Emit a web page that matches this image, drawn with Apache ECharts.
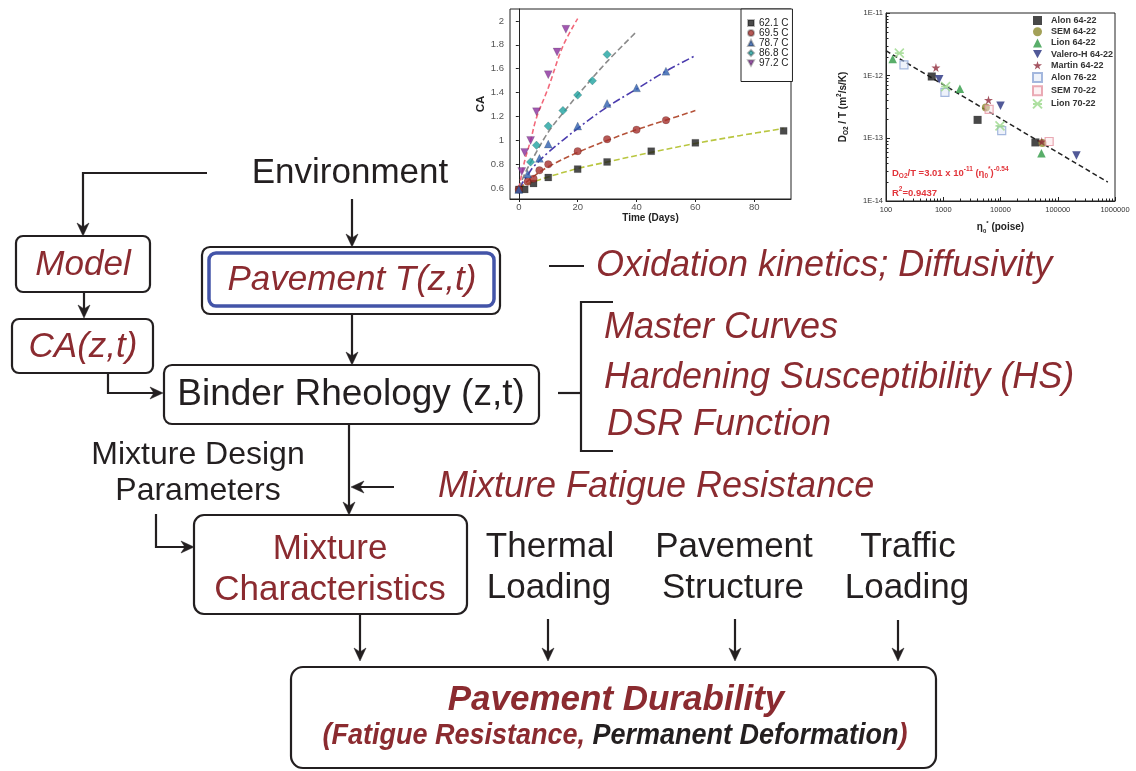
<!DOCTYPE html>
<html>
<head>
<meta charset="utf-8">
<script src="https://cdn.jsdelivr.net/npm/echarts@6/dist/echarts.min.js"></script>
<style>
  html, body { margin: 0; padding: 0; background: #ffffff; }
  #main { width: 1136px; height: 771px; }
</style>
</head>
<body>
<div id="main"></div>
<script>
// ---------- Carbonyl area (CA) growth with aging time, five temperatures ----------
const agingLabels = ['62.1 C', '69.5 C', '78.7 C', '86.8 C', '97.2 C'];

const days621 = [0, 2, 5, 10, 20, 30, 45, 60, 90];
const ca621   = [0.59, 0.59, 0.64, 0.69, 0.76, 0.82, 0.91, 0.98, 1.08];
const days695 = [0, 3, 5, 7, 10, 20, 30, 40, 50];
const ca695   = [0.59, 0.655, 0.68, 0.75, 0.80, 0.91, 1.01, 1.09, 1.17];
const days787 = [0, 3, 7, 10, 20, 30, 40, 50];
const ca787   = [0.59, 0.72, 0.85, 0.97, 1.12, 1.31, 1.44, 1.58];
const days868 = [4, 6, 10, 15, 20, 25, 30];
const ca868   = [0.82, 0.96, 1.12, 1.25, 1.38, 1.50, 1.72];
const days972 = [1, 2, 4, 6, 10, 13, 16];
const ca972   = [0.74, 0.90, 1.00, 1.24, 1.55, 1.74, 1.93];

// fitted kinetics curves
const fitDays621 = [0, 2, 5, 10, 20, 30, 45, 60, 75, 90];
const fitCa621   = [0.60, 0.625, 0.655, 0.695, 0.765, 0.82, 0.90, 0.975, 1.04, 1.10];
const fitDays695 = [0, 3, 5, 10, 20, 30, 40, 50, 60];
const fitCa695   = [0.60, 0.66, 0.70, 0.78, 0.90, 1.00, 1.09, 1.17, 1.25];
const fitDays787 = [0, 3, 5, 10, 20, 30, 40, 50, 60];
const fitCa787   = [0.60, 0.71, 0.78, 0.90, 1.10, 1.28, 1.43, 1.58, 1.71];
const fitDays868 = [0, 2, 5, 10, 15, 20, 30, 40];
const fitCa868   = [0.60, 0.72, 0.86, 1.07, 1.23, 1.38, 1.66, 1.91];
const fitDays972 = [0, 2, 4, 6, 10, 15, 20];
const fitCa972   = [0.60, 0.83, 1.00, 1.19, 1.44, 1.79, 2.02];

const caTickDays = [0, 20, 40, 60, 80];
const caTickValues = [0.6, 0.8, 1.0, 1.2, 1.4, 1.6, 1.8, 2.0];

// ---------- Oxygen diffusivity vs zero-shear viscosity ----------
const sourceLabels = ['Alon 64-22', 'SEM 64-22', 'Lion 64-22', 'Valero-H 64-22',
                      'Martin 64-22', 'Alon 76-22', 'SEM 70-22', 'Lion 70-22'];
const viscAlon6422   = [630, 3980, 40700];
const diffAlon6422   = [9.7e-13, 1.97e-13, 8.6e-14];
const viscSem6422    = [5550, 54000];
const diffSem6422    = [3.1e-13, 8.4e-14];
const viscLion6422   = [131, 1950, 51900];
const diffLion6422   = [1.84e-12, 6.2e-13, 5.8e-14];
const viscValero6422 = [850, 10000, 212000];
const diffValero6422 = [8.8e-13, 3.3e-13, 5.3e-14];
const viscMartin6422 = [745, 6170, 52500];
const diffMartin6422 = [1.35e-12, 4.1e-13, 8.9e-14];
const viscAlon7622   = [206, 1070, 10500];
const diffAlon7622   = [1.49e-12, 5.4e-13, 1.33e-13];
const viscSem7022    = [6330, 70800];
const diffSem7022    = [2.9e-13, 8.9e-14];
const viscLion7022   = [171, 1100, 9800];
const diffLion7022   = [2.29e-12, 6.7e-13, 1.58e-13];
// power-law fit D/T = 3.01e-11 * eta^-0.54, end points
const fitVisc = [100, 750000];
const fitDiff = [2.5e-12, 2.0e-14];

const viscDecades = [100, 1000, 10000, 100000, 1000000];
const diffDecades = [1e-14, 1e-13, 1e-12, 1e-11];
const minorSteps = [2, 3, 4, 5, 6, 7, 8, 9];

// ---------- styling ----------
const FONT = '"Liberation Sans", Arial, Helvetica, sans-serif';
const INK = '#231f20';
const RED = '#8b2b30';
const FRAME_BLUE = '#4354a8';
const LW = 2.2;

const zip = (xs, ys) => xs.map((x, i) => [x, ys[i]]);
const minorTicks = (decades) => {
  const out = [];
  decades.slice(0, -1).forEach(d => minorSteps.forEach(m => out.push(d * m)));
  return out;
};

const downTri = 'path://M0,0 L10,0 L5,9 Z';
const star = 'path://M50,0 L61,35 L98,35 L68,57 L79,91 L50,70 L21,91 L32,57 L2,35 L39,35 Z';
const cross = 'path://M0,0 L10,10 M10,0 L0,10 M0,5 L10,5';

const agingPoints = [zip(days621, ca621), zip(days695, ca695), zip(days787, ca787), zip(days868, ca868), zip(days972, ca972)];
const agingFits = [zip(fitDays621, fitCa621), zip(fitDays695, fitCa695), zip(fitDays787, fitCa787), zip(fitDays868, fitCa868), zip(fitDays972, fitCa972)];
const agingSymbols = ['rect', 'circle', 'triangle', 'diamond', downTri];
const agingSizes = [7, 7.5, 8, 8.5, 8];
const agingColors = ['#1e1e1e', '#a5302c', '#2e5fae', '#1fa3a0', '#8a2e9c'];
const fitColors = ['#b9c640', '#b5533a', '#4b3cae', '#8a8a8a', '#f2687a'];
const fitDash = [[6, 3], [6, 3], [8, 3, 2, 3], [6, 3], [5, 3]];

const sourcePoints = [
  zip(viscAlon6422, diffAlon6422), zip(viscSem6422, diffSem6422), zip(viscLion6422, diffLion6422),
  zip(viscValero6422, diffValero6422), zip(viscMartin6422, diffMartin6422), zip(viscAlon7622, diffAlon7622),
  zip(viscSem7022, diffSem7022), zip(viscLion7022, diffLion7022)
];
const sourceSymbols = ['rect', 'circle', 'triangle', downTri, star, 'rect', 'rect', cross];
const sourceSizes = [8, 8, 8.5, 8.5, 9, 8, 8, 9];
const sourceStyles = [
  { color: '#1a1a1a' },
  { color: '#8c8a2e' },
  { color: '#2f9a45' },
  { color: '#26307e' },
  { color: '#8e2b3b' },
  { color: 'rgba(220,228,245,0.6)', borderColor: '#8fa6d6', borderWidth: 1.2 },
  { color: 'rgba(250,225,230,0.6)', borderColor: '#e596a3', borderWidth: 1.2 },
  { color: 'rgba(0,0,0,0)', borderColor: '#9ad88a', borderWidth: 1.6 }
];

// ---------- flow diagram helpers ----------
function seg(points, width) {
  return { type: 'polyline', shape: { points }, style: { stroke: INK, lineWidth: width || LW, fill: 'none' } };
}
function arrow(points) {
  const n = points.length;
  const [tx, ty] = points[n - 1];
  const [px, py] = points[n - 2];
  const len = Math.hypot(tx - px, ty - py);
  const ux = (tx - px) / len, uy = (ty - py) / len;
  const head = 13, half = 6;
  const nx = -uy, ny = ux;
  const bx = tx - ux * head, by = ty - uy * head;
  const shaft = points.slice(0, n - 1).concat([[tx - ux * head * 0.6, ty - uy * head * 0.6]]);
  return [
    seg(shaft),
    { type: 'polygon', shape: { points: [[tx, ty], [bx + nx * half, by + ny * half],
      [tx - ux * head * 0.7, ty - uy * head * 0.7], [bx - nx * half, by - ny * half]] },
      style: { fill: INK, stroke: INK, lineWidth: 0.5 } }
  ];
}
function box(x, y, w, h, r, stroke, width) {
  return { type: 'rect', shape: { x, y, width: w, height: h, r },
    style: { fill: 'none', stroke: stroke || INK, lineWidth: width || LW } };
}
function txt(text, x, y, opt) {
  const o = Object.assign({ size: 35, color: INK, italic: false, bold: false, align: 'center' }, opt || {});
  return { type: 'text', style: { text, x, y, fontSize: o.size, fontFamily: FONT,
    fontStyle: o.italic ? 'italic' : 'normal', fontWeight: o.bold ? 'bold' : 'normal',
    fill: o.color, align: o.align, verticalAlign: 'middle', textAlign: o.align, textVerticalAlign: 'middle' } };
}
const note = { italic: true, color: RED, align: 'left', size: 36 };

const diagram = [].concat(
  txt('Environment', 350, 173),
  arrow([[207, 173], [83, 173], [83, 236]]),
  arrow([[352, 199], [352, 247]]),

  box(16, 236, 134, 56, 7),
  txt('Model', 83, 265, { italic: true, color: RED }),
  arrow([[84, 292], [84, 318]]),
  box(12, 319, 141, 54, 7),
  txt('CA(z,t)', 83, 347, { italic: true, color: RED }),
  arrow([[108, 373], [108, 393], [163, 393]]),

  box(202, 247, 298, 67, 8),
  box(209, 253, 285, 53, 7, FRAME_BLUE, 3.5),
  txt('Pavement T(z,t)', 352, 280, { italic: true, color: RED }),
  arrow([[352, 314], [352, 365]]),

  box(164, 365, 375, 59, 8),
  txt('Binder Rheology (z,t)', 351, 395, { size: 37 }),

  seg([[549, 266], [584, 266]]),
  txt('Oxidation kinetics; Diffusivity', 596, 266, note),
  seg([[558, 393], [581, 393]]),
  seg([[613, 302], [581, 302], [581, 451], [613, 451]]),
  txt('Master Curves', 604, 328, note),
  txt('Hardening Susceptibility (HS)', 604, 378, note),
  txt('DSR Function', 607, 425, note),

  arrow([[349, 424], [349, 515]]),
  arrow([[394, 487], [351, 487]]),
  txt('Mixture Fatigue Resistance', 438, 487, note),
  txt('Mixture Design', 198, 455, { size: 32 }),
  txt('Parameters', 198, 491, { size: 32 }),
  arrow([[156, 514], [156, 547], [194, 547]]),

  box(194, 515, 273, 99, 10),
  txt('Mixture', 330, 549, { color: RED }),
  txt('Characteristics', 330, 590, { color: RED }),
  txt('Thermal', 550, 547), txt('Loading', 549, 588),
  txt('Pavement', 734, 547), txt('Structure', 733, 588),
  txt('Traffic', 908, 547), txt('Loading', 907, 588),

  arrow([[360, 614], [360, 661]]),
  arrow([[548, 619], [548, 661]]),
  arrow([[735, 619], [735, 661]]),
  arrow([[898, 620], [898, 661]]),

  box(291, 667, 645, 101, 12),
  txt('Pavement Durability', 616, 700, { bold: true, italic: true, color: RED }),
  {
    type: 'text', scaleY: 1.12, originX: 615, originY: 736,
    style: {
      text: '{r|(Fatigue Resistance, }{k|Permanent Deformation}{r|)}',
      x: 615, y: 736, align: 'center', verticalAlign: 'middle', textAlign: 'center', textVerticalAlign: 'middle',
      rich: {
        r: { fill: RED, fontSize: 27, fontStyle: 'italic', fontWeight: 'bold', fontFamily: FONT },
        k: { fill: INK, fontSize: 27, fontStyle: 'italic', fontWeight: 'bold', fontFamily: FONT }
      }
    }
  },

  // fit equation for the diffusivity plot
  {
    type: 'text',
    style: {
      text: '{r|D}{s|O2}{r|/T =3.01 x 10}{p|-11}{r| (η}{s|0}{p|*}{r|)}{p|-0.54}',
      x: 892, y: 173, align: 'left', verticalAlign: 'middle', textAlign: 'left', textVerticalAlign: 'middle',
      rich: {
        r: { fill: '#e2353b', fontSize: 9.5, fontWeight: 'bold', fontFamily: FONT, lineHeight: 14, verticalAlign: 'middle' },
        s: { fill: '#e2353b', fontSize: 6.5, fontWeight: 'bold', fontFamily: FONT, lineHeight: 14, verticalAlign: 'bottom' },
        p: { fill: '#e2353b', fontSize: 6.5, fontWeight: 'bold', fontFamily: FONT, lineHeight: 14, verticalAlign: 'top' }
      }
    }
  },
  {
    type: 'text',
    style: {
      text: '{r|R}{p|2}{r|=0.9437}',
      x: 892, y: 193, align: 'left', verticalAlign: 'middle', textAlign: 'left', textVerticalAlign: 'middle',
      rich: {
        r: { fill: '#e2353b', fontSize: 9.5, fontWeight: 'bold', fontFamily: FONT, lineHeight: 14, verticalAlign: 'middle' },
        p: { fill: '#e2353b', fontSize: 6.5, fontWeight: 'bold', fontFamily: FONT, lineHeight: 14, verticalAlign: 'top' }
      }
    }
  }
);

// ---------- series ----------
const series = [];
agingFits.forEach((pts, i) => series.push({
  name: agingLabels[i] + ' fit', type: 'line', xAxisIndex: 0, yAxisIndex: 0, data: pts,
  smooth: 0.35, showSymbol: false, symbol: 'none', silent: true, z: 2,
  lineStyle: { color: fitColors[i], width: 1.6, type: fitDash[i] }
}));
agingPoints.forEach((pts, i) => series.push({
  name: agingLabels[i], type: 'scatter', xAxisIndex: 0, yAxisIndex: 0, data: pts, z: 3,
  symbol: agingSymbols[i], symbolSize: agingSizes[i],
  itemStyle: { color: agingColors[i], borderColor: 'rgba(0,0,0,0.35)', borderWidth: 0.5 }
}));
series.push({
  name: 'power-law fit', type: 'line', xAxisIndex: 1, yAxisIndex: 1, data: zip(fitVisc, fitDiff),
  showSymbol: false, symbol: 'none', silent: true, z: 2,
  lineStyle: { color: '#222', width: 1.5, type: [5, 3] }
});
sourcePoints.forEach((pts, i) => series.push({
  name: sourceLabels[i], type: 'scatter', xAxisIndex: 1, yAxisIndex: 1, data: pts, z: 3,
  symbol: sourceSymbols[i], symbolSize: sourceSizes[i], itemStyle: sourceStyles[i]
}));

const smallAxisLine = { show: true, lineStyle: { color: '#222', width: 1 } };

const option = {
  animation: false,
  backgroundColor: '#ffffff',
  textStyle: { fontFamily: FONT },
  grid: [
    { left: 510, top: 9, width: 281, height: 190, show: true, borderColor: '#222', borderWidth: 1,
      backgroundColor: 'transparent', containLabel: false, outerBoundsMode: 'none' },
    { left: 886, top: 13, width: 229, height: 188, show: true, borderColor: '#222', borderWidth: 1,
      backgroundColor: 'transparent', containLabel: false, outerBoundsMode: 'none' }
  ],
  xAxis: [
    {
      gridIndex: 0, type: 'value', min: -3, max: 92.5, position: 'bottom',
      name: 'Time (Days)', nameLocation: 'middle', nameGap: 13,
      nameTextStyle: { fontSize: 10, fontWeight: 'bold', color: '#222', fontFamily: FONT },
      axisLine: smallAxisLine,
      axisTick: { show: true, length: 3, customValues: caTickDays, lineStyle: { color: '#222' } },
      axisLabel: { customValues: caTickDays, fontSize: 9.5, color: '#555', margin: 3, fontFamily: FONT },
      splitLine: { show: false }
    },
    {
      gridIndex: 1, type: 'log', logBase: 10, min: 100, max: 1000000, position: 'bottom',
      name: '{t|η}{s|0}{p|*}{t| (poise)}', nameLocation: 'middle', nameGap: 19,
      nameTextStyle: {
        rich: {
          t: { fontSize: 10, fontWeight: 'bold', color: '#222', fontFamily: FONT, lineHeight: 14, verticalAlign: 'middle' },
          s: { fontSize: 6, fontWeight: 'bold', color: '#222', fontFamily: FONT, lineHeight: 14, verticalAlign: 'bottom' },
          p: { fontSize: 6, fontWeight: 'bold', color: '#222', fontFamily: FONT, lineHeight: 14, verticalAlign: 'top' }
        }
      },
      axisLine: smallAxisLine,
      axisTick: { show: true, inside: true, length: 4, customValues: viscDecades, lineStyle: { color: '#222' } },
      axisLabel: { customValues: viscDecades, fontSize: 7.5, color: '#333', margin: 5, fontFamily: FONT,
        formatter: v => String(Math.round(v)) },
      splitLine: { show: false }
    },
    {
      gridIndex: 1, type: 'log', logBase: 10, min: 100, max: 1000000, position: 'bottom',
      axisLine: { show: false },
      axisTick: { show: true, inside: true, length: 2.5, customValues: minorTicks(viscDecades), lineStyle: { color: '#222' } },
      axisLabel: { show: false }, splitLine: { show: false }
    }
  ],
  yAxis: [
    {
      gridIndex: 0, type: 'value', min: 0.51, max: 2.1, position: 'left',
      name: 'CA', nameLocation: 'middle', nameGap: 17, nameRotate: 90,
      nameTextStyle: { fontSize: 11.5, fontWeight: 'bold', color: '#222', fontFamily: FONT },
      axisLine: smallAxisLine,
      axisTick: { show: true, length: 3, customValues: caTickValues, lineStyle: { color: '#222' } },
      axisLabel: { customValues: caTickValues, fontSize: 9.5, color: '#555', margin: 6, fontFamily: FONT,
        formatter: v => String(+(+v).toFixed(1)) },
      splitLine: { show: false }
    },
    {
      gridIndex: 1, type: 'log', logBase: 10, min: 1e-14, max: 1e-11, position: 'left',
      name: '{t|D}{s|O2}{t| / T (m}{p|2}{t|/s/K)}', nameLocation: 'middle', nameGap: 36, nameRotate: 90,
      nameTextStyle: {
        rich: {
          t: { fontSize: 10, fontWeight: 'bold', color: '#222', fontFamily: FONT, lineHeight: 14, verticalAlign: 'middle' },
          s: { fontSize: 6.5, fontWeight: 'bold', color: '#222', fontFamily: FONT, lineHeight: 14, verticalAlign: 'bottom' },
          p: { fontSize: 6.5, fontWeight: 'bold', color: '#222', fontFamily: FONT, lineHeight: 14, verticalAlign: 'top' }
        }
      },
      axisLine: smallAxisLine,
      axisTick: { show: true, inside: true, length: 4, customValues: diffDecades, lineStyle: { color: '#222' } },
      axisLabel: { customValues: diffDecades, fontSize: 7.5, color: '#333', margin: 3, fontFamily: FONT,
        formatter: v => '1E' + Math.round(Math.log10(v)) },
      splitLine: { show: false }
    },
    {
      gridIndex: 1, type: 'log', logBase: 10, min: 1e-14, max: 1e-11, position: 'left',
      axisLine: { show: false },
      axisTick: { show: true, inside: true, length: 2.5, customValues: minorTicks(diffDecades), lineStyle: { color: '#222' } },
      axisLabel: { show: false }, splitLine: { show: false }
    }
  ],
  legend: [
    {
      data: agingLabels, orient: 'vertical', left: 741, top: 9, selectedMode: false,
      itemWidth: 6, itemHeight: 6, itemGap: 0, padding: [9, 4, 13.5, 6],
      borderColor: '#222', borderWidth: 1, backgroundColor: '#ffffff',
      textStyle: { fontSize: 10, color: '#222', lineHeight: 7.5, fontFamily: FONT }
    },
    {
      data: sourceLabels, orient: 'vertical', left: 1032, top: 16, selectedMode: false,
      itemWidth: 9, itemHeight: 9, itemGap: 2.2, padding: 0,
      textStyle: { fontSize: 9, fontWeight: 'bold', color: '#333', lineHeight: 9, fontFamily: FONT, padding: [0, 0, 0, 4] }
    }
  ],
  graphic: diagram,
  series
};

const chart = echarts.init(document.getElementById('main'), null, { renderer: 'canvas' });
chart.setOption(option);
</script>
</body>
</html>
